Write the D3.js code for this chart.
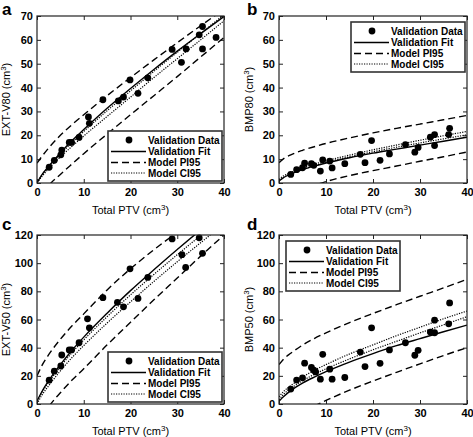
<!DOCTYPE html>
<html><head><meta charset="utf-8">
<script src="https://cdn.jsdelivr.net/npm/d3@7"></script>
<style>body{margin:0;background:#fff} text{font-family:Arial,"Liberation Sans",Helvetica,sans-serif;fill:#000}</style>
</head><body><svg id="chart" width="473" height="437"></svg>
<script>
// ---------- data ----------
const xTicks = [0, 10, 20, 30, 40];
const yTicks70 = [0, 10, 20, 30, 40, 50, 60, 70];
const yTicks120 = [0, 20, 40, 60, 80, 100, 120];
const legendLabels = ["Validation Data", "Validation Fit", "Model PI95", "Model CI95"];

// curve sample positions (Total PTV)
const curveX = [0, 1, 2.5, 5, 7.5, 10, 15, 20, 25, 30, 35, 40];

// Panel a: EXT-V80
const ptvA = [2.6, 3.7, 5.1, 5.3, 6.9, 7.4, 9.0, 11.0, 11.2, 14.1, 17.4, 18.5, 19.9, 21.6, 23.7, 28.9, 30.9, 31.9, 34.7, 35.4, 35.4, 38.3];
const extV80 = [6.6, 9.5, 11.8, 13.8, 17, 17, 19.1, 27.7, 25, 34.9, 34.4, 36, 43.2, 37.6, 44.1, 56, 50.6, 56.2, 62.1, 65.6, 56.2, 61];
const fitA   = [0, 3.3, 7.0, 12.6, 17.8, 22.4, 31.3, 39.6, 47.6, 55.3, 62.6, 69.8];
const ciUpA  = [0, 3.2, 6.8, 12.1, 17.0, 21.6, 30.3, 38.6, 46.8, 54.8, 62.7, 70.5];
const ciLoA  = [0, 2.6, 6.0, 10.9, 15.4, 19.7, 27.9, 36.0, 44.2, 52.1, 60.0, 68.0];
const piUpA  = [8.3, 11.0, 14.7, 20.0, 24.5, 28.6, 36.6, 44.2, 51.6, 58.8, 65.9, 72.8];
const piLoA  = [-8.0, -5.2, -1.1, 3.6, 8.0, 12.3, 20.5, 28.6, 36.6, 44.6, 52.8, 61.0];

// Panel b: BMP80
const ptvB = [2.5, 3.75, 5.0, 5.45, 6.9, 7.4, 8.8, 9.3, 10.8, 11.3, 14.0, 17.3, 18.3, 19.7, 21.5, 23.5, 26.9, 28.9, 29.6, 32.2, 33.1, 33.1, 36.1, 36.3];
const bmp80 = [3.6, 5.6, 6.4, 8.3, 8.1, 7.4, 5.0, 9.7, 9.2, 6.3, 8.1, 12.0, 8.5, 17.8, 9.5, 12.2, 16.1, 12.9, 14.9, 19.2, 20.3, 15.7, 20.3, 22.9];
const fitB   = [0.8, 2.3, 3.7, 5.6, 7.1, 8.4, 10.6, 12.5, 14.2, 15.9, 17.5, 19.2];
const ciUpB  = [1.5, 3.0, 4.4, 6.3, 7.9, 9.3, 11.7, 13.9, 15.9, 17.9, 19.8, 21.6];
const ciLoB  = [0.8, 2.3, 3.8, 5.7, 7.2, 8.6, 11.0, 13.1, 15.0, 16.8, 18.5, 20.2];
const piUpB  = [8.5, 10.2, 11.8, 13.7, 15.2, 16.6, 18.9, 21.0, 22.9, 24.7, 26.5, 28.3];
const piLoB  = [-7.5, -6.0, -4.5, -2.6, -1.0, 0.6, 3.1, 5.2, 7.1, 9.1, 11.0, 13.0];

// Panel c: EXT-V50
const ptvC = [2.6, 3.7, 5.1, 5.3, 6.9, 7.4, 9.0, 10.8, 11.2, 14.1, 17.2, 18.5, 19.9, 21.6, 23.7, 28.9, 31.0, 31.8, 34.7, 35.4];
const extV50 = [16.9, 23.3, 27, 34.8, 38.4, 38.4, 43.5, 60.5, 54.1, 75.5, 72.2, 69, 96, 75, 89.9, 117.2, 106, 97, 118, 107];
const fitC   = [2, 8.5, 16.6, 28.0, 38.2, 47.5, 64.5, 80.5, 95.3, 109.7, 123.5, 136];
const ciUpC  = [2, 8, 15.5, 26.5, 36.5, 45.5, 62, 77.5, 92, 106, 119.5, 132];
const ciLoC  = [0, 6, 13, 23.5, 33, 41.5, 57.5, 72.5, 87, 101, 114.5, 128];
const piUpC  = [20, 27, 35, 46, 55.5, 64, 81, 96, 109.5, 122, 134.5, 146.5];
const piLoC  = [-14, -10, -2, 8, 17, 25, 42, 58, 74, 89.5, 105, 120];

// Panel d: BMP50
const ptvD = [2.5, 3.75, 5.0, 5.45, 6.9, 7.4, 7.8, 8.8, 9.3, 10.8, 11.3, 14.0, 17.3, 18.3, 19.7, 21.5, 23.5, 26.9, 28.9, 29.6, 32.2, 33.1, 33.1, 36.1, 36.3];
const bmp50 = [10.6, 17, 18.6, 29, 25.9, 24, 22.8, 17.6, 35.3, 24.7, 17.6, 18.8, 36.9, 26.6, 54.1, 28.9, 38.4, 43.5, 34.6, 38.1, 51.1, 50.6, 59.5, 56.9, 71.8];
const fitD   = [2, 5.3, 9.5, 14.8, 19.1, 23, 29.8, 35.8, 41.4, 46.4, 51.3, 56];
const ciUpD  = [5, 9, 13, 19, 24, 28, 35.5, 42, 48.5, 54.5, 60.5, 66];
const ciLoD  = [3, 7, 11, 16.5, 21, 25, 32, 38.5, 44.5, 50.5, 56.2, 62];
const piUpD  = [28, 32, 36, 41.8, 46.5, 50.5, 57.8, 64.3, 70.5, 76.5, 82.4, 88.5];
const piLoD  = [-20, -16, -12, -6.2, -1.5, 2.5, 9.8, 16.3, 22.5, 28.5, 34.4, 40];

// ---------- layout ----------
const panels = [
  {id:"a", letter:"a", lx:2, ly:15, box:{l:37, r:224, t:16, b:183}, yMax:70, yTicks:yTicks70, ylab:"EXT-V80", ylx:10,
   px:ptvA, py:extV80, fit:fitA, ciU:ciUpA, ciL:ciLoA, piU:piUpA, piL:piLoA, leg:"br"},
  {id:"b", letter:"b", lx:247, ly:15, box:{l:279, r:467, t:16, b:183}, yMax:70, yTicks:yTicks70, ylab:"BMP80", ylx:253,
   px:ptvB, py:bmp80, fit:fitB, ciU:ciUpB, ciL:ciLoB, piU:piUpB, piL:piLoB, leg:"tr"},
  {id:"c", letter:"c", lx:2, ly:230, box:{l:37, r:224, t:235, b:404}, yMax:120, yTicks:yTicks120, ylab:"EXT-V50", ylx:10,
   px:ptvC, py:extV50, fit:fitC, ciU:ciUpC, ciL:ciLoC, piU:piUpC, piL:piLoC, leg:"br"},
  {id:"d", letter:"d", lx:247, ly:230, box:{l:279, r:467, t:235, b:404}, yMax:120, yTicks:yTicks120, ylab:"BMP50", ylx:253,
   px:ptvD, py:bmp50, fit:fitD, ciU:ciUpD, ciL:ciLoD, piU:piUpD, piL:piLoD, leg:"tl"}
];

const svg = d3.select("#chart");
const FS = 11;

panels.forEach(p => {
  const B = p.box;
  const x = d3.scaleLinear().domain([0, 40]).range([B.l, B.r]);
  const y = d3.scaleLinear().domain([0, p.yMax]).range([B.b, B.t]);
  const g = svg.append("g");

  g.append("clipPath").attr("id", "clip-" + p.id)
    .append("rect").attr("x", B.l).attr("y", B.t).attr("width", B.r - B.l).attr("height", B.b - B.t);

  // axes
  const axL = d3.axisLeft(y).tickValues(p.yTicks).tickSizeInner(-4).tickSizeOuter(0).tickPadding(4);
  const axB = d3.axisBottom(x).tickValues(xTicks).tickSizeInner(-4).tickSizeOuter(0).tickPadding(5);
  const axR = d3.axisRight(y).tickValues(p.yTicks).tickSizeInner(-4).tickSizeOuter(0).tickFormat("");
  const axT = d3.axisTop(x).tickValues(xTicks).tickSizeInner(-4).tickSizeOuter(0).tickFormat("");
  [[axL, `translate(${B.l},0)`], [axB, `translate(0,${B.b})`], [axR, `translate(${B.r},0)`], [axT, `translate(0,${B.t})`]]
    .forEach(([ax, tr]) => {
      const a = g.append("g").attr("transform", tr).call(ax);
      a.select(".domain").remove();
      a.selectAll("line").attr("stroke", "#222").attr("stroke-width", 1);
      a.selectAll("text").attr("font-size", FS).attr("font-weight", "bold").attr("font-family", "Arial, Liberation Sans, sans-serif").attr("fill", "#111");
    });

  // curves
  const line = d3.line().x((d, i) => x(curveX[i])).y(d => y(d)).curve(d3.curveMonotoneX);
  const cg = g.append("g").attr("clip-path", `url(#clip-${p.id})`).attr("fill", "none").attr("stroke", "#000");
  cg.append("path").attr("d", line(p.piU)).attr("stroke-width", 1.4).attr("stroke-dasharray", "7,4");
  cg.append("path").attr("d", line(p.piL)).attr("stroke-width", 1.4).attr("stroke-dasharray", "7,4");
  cg.append("path").attr("d", line(p.ciU)).attr("stroke-width", 1.2).attr("stroke-dasharray", "1.2,1.3");
  cg.append("path").attr("d", line(p.ciL)).attr("stroke-width", 1.2).attr("stroke-dasharray", "1.2,1.3");
  cg.append("path").attr("d", line(p.fit)).attr("stroke-width", 1.4);

  // points
  g.append("g").selectAll("circle").data(p.px).join("circle")
    .attr("cx", d => x(d)).attr("cy", (d, i) => y(p.py[i])).attr("r", 3.4).attr("fill", "#000");

  // box
  g.append("rect").attr("x", B.l).attr("y", B.t).attr("width", B.r - B.l).attr("height", B.b - B.t)
    .attr("fill", "none").attr("stroke", "#222").attr("stroke-width", 1.2);

  // legend
  const LW = 114, LH = 50;
  let lx0, ly0;
  if (p.leg === "br") { lx0 = B.r - LW - 2; ly0 = B.b - LH - 2; }
  else if (p.leg === "tr") { lx0 = B.r - LW - 2; ly0 = B.t + 6; }
  else { lx0 = B.l + 7; ly0 = B.t + 6; }
  const lg = g.append("g").attr("transform", `translate(${lx0},${ly0})`);
  lg.append("rect").attr("width", LW).attr("height", LH).attr("fill", "#fff").attr("stroke", "#333").attr("stroke-width", 1.6);
  const rowY = [9, 20.5, 31.5, 42];
  const styles = [null, {w:1.4, da:null}, {w:1.4, da:"7,4"}, {w:1.2, da:"1.2,1.3"}];
  legendLabels.forEach((lab, i) => {
    if (i === 0) {
      lg.append("circle").attr("cx", 21).attr("cy", rowY[i]).attr("r", 3.4).attr("fill", "#000");
    } else {
      lg.append("line").attr("x1", 3).attr("x2", 38).attr("y1", rowY[i]).attr("y2", rowY[i])
        .attr("stroke", "#000").attr("stroke-width", styles[i].w).attr("stroke-dasharray", styles[i].da);
    }
    lg.append("text").attr("x", 40).attr("y", rowY[i]).attr("dy", "0.35em").attr("font-size", 10).attr("font-weight", "bold").text(lab);
  });

  // axis labels
  const xl = g.append("text").attr("x", (B.l + B.r) / 2).attr("y", B.b + 31).attr("text-anchor", "middle")
    .attr("font-size", FS);
  xl.append("tspan").text("Total PTV (cm");
  xl.append("tspan").attr("dy", -4).attr("font-size", 8).text("3");
  xl.append("tspan").attr("dy", 4).text(")");

  const yl = g.append("text").attr("transform", `translate(${p.ylx},${(B.t + B.b) / 2}) rotate(-90)`)
    .attr("text-anchor", "middle").attr("font-size", FS);
  yl.append("tspan").text(p.ylab + " (cm");
  yl.append("tspan").attr("dy", -4).attr("font-size", 8).text("3");
  yl.append("tspan").attr("dy", 4).text(")");

  // panel letter
  svg.append("text").attr("x", p.lx).attr("y", p.ly).attr("font-size", 17).attr("font-weight", "bold").text(p.letter);
});
</script></body></html>
